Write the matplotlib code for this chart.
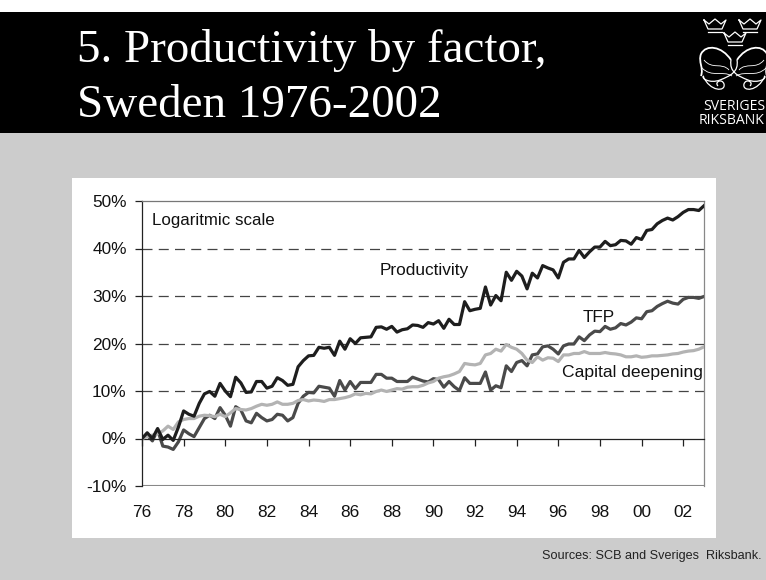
import matplotlib
matplotlib.use("Agg")
import matplotlib.pyplot as plt
from matplotlib.patches import Rectangle, PathPatch
from matplotlib.path import Path

W, H = 766, 580

productivity = [0, 1.2, 0, 2.1, -0.2, 0.7, -0.4, 2.4, 5.8, 5.1, 4.7, 7.4, 9.4, 9.9, 8.9, 11.6,
                10.0, 8.8, 12.9, 11.7, 9.7, 9.8, 12.0, 12.0, 10.6, 11.0, 12.8, 12.2, 11.2, 11.4, 15.1, 16.4,
                17.4, 17.5, 19.2, 19.0, 19.2, 17.5, 20.5, 18.8, 21.0, 20.0, 21.2, 21.3, 21.4, 23.4, 23.5, 23.0,
                23.6, 22.4, 22.9, 23.1, 23.9, 23.8, 23.4, 24.4, 24.1, 24.8, 23.2, 25.1, 24.0, 24.0, 28.8, 26.9,
                27.2, 27.4, 31.9, 28.1, 30.1, 29.0, 35.0, 33.3, 35.2, 34.2, 31.5, 34.8, 33.8, 36.4, 35.9, 35.5,
                33.8, 37.1, 37.8, 37.8, 39.6, 38.1, 39.3, 40.3, 40.3, 41.5, 40.6, 40.8, 41.7, 41.6, 40.9, 42.3,
                41.9, 43.8, 44.0, 45.2, 45.9, 46.4, 46.0, 46.7, 47.6, 48.2, 48.2, 48.0, 49.0]

tfp = [0, 0.7, -0.5, 1.8, -1.6, -1.8, -2.3, -0.7, 1.8, 1.0, 0.4, 2.3, 4.2, 4.9, 4.2, 6.5,
       4.9, 2.6, 6.7, 6.0, 3.7, 3.3, 5.3, 4.4, 3.7, 4.0, 5.1, 4.9, 3.7, 4.4, 7.4, 8.9,
       9.7, 9.6, 11.0, 10.8, 10.6, 8.9, 12.2, 10.2, 12.0, 10.5, 11.8, 11.8, 11.8, 13.5, 13.5, 12.7,
       12.7, 12.0, 12.0, 12.0, 12.9, 12.5, 12.1, 11.9, 12.6, 12.4, 10.8, 12.0, 10.9, 10.1, 12.8, 11.6,
       11.6, 11.6, 14.0, 10.2, 11.1, 10.7, 15.3, 14.1, 16.0, 16.4, 15.3, 17.6, 17.8, 19.3, 19.5, 18.8,
       17.8, 19.5, 19.9, 19.9, 21.4, 20.6, 21.8, 22.6, 22.5, 23.6, 23.0, 23.3, 24.2, 23.9, 24.5, 25.4,
       25.2, 26.7, 26.9, 27.8, 28.4, 28.9, 28.5, 28.3, 29.3, 29.7, 29.7, 29.5, 29.9]

capital = [0, 0.4, 0.7, 1.0, 1.6, 2.6, 1.9, 3.5, 4.0, 4.2, 4.2, 4.7, 4.9, 4.8, 4.6, 5.1,
           4.6, 5.4, 6.3, 6.1, 6.0, 6.3, 6.8, 7.2, 7.0, 7.2, 7.7, 7.2, 7.2, 7.4, 8.0, 8.2,
           7.9, 8.1, 8.0, 7.8, 8.2, 8.2, 8.4, 8.6, 8.9, 9.4, 9.2, 9.5, 9.4, 9.9, 10.2, 9.9,
           10.2, 10.5, 10.4, 10.8, 10.9, 10.9, 11.2, 11.7, 12.0, 12.7, 13.0, 13.2, 13.6, 14.1, 15.8, 15.6,
           15.5, 15.8, 17.6, 17.9, 18.8, 18.4, 19.8, 19.2, 18.8, 17.9, 16.5, 16.0, 17.2, 16.5, 17.0, 16.9,
           16.2, 17.6, 17.6, 17.9, 17.9, 18.3, 17.9, 17.9, 17.9, 18.1, 17.9, 17.8, 17.6, 17.2, 17.2, 17.4,
           17.1, 17.2, 17.4, 17.4, 17.5, 17.6, 17.8, 17.9, 18.2, 18.4, 18.5, 18.8, 19.3]

year_labels = ['76', '78', '80', '82', '84', '86', '88', '90', '92', '94', '96', '98', '00', '02']
y_ticks = [-10, 0, 10, 20, 30, 40, 50]
y_labels = ['-10%', '0%', '10%', '20%', '30%', '40%', '50%']

plt.rcParams['font.family'] = ['Liberation Sans', 'DejaVu Sans']

fig = plt.figure(figsize=(W / 100, H / 100), dpi=100, facecolor='#cccccc')

# page background, in pixels
bg = fig.add_axes([0, 0, 1, 1])
bg.set_xlim(0, W)
bg.set_ylim(H, 0)
bg.axis('off')
bg.add_patch(Rectangle((0, 0), W, 12, color='white', lw=0))
bg.add_patch(Rectangle((0, 12), W, 121, color='black', lw=0))
bg.add_patch(Rectangle((72, 178), 644, 360, color='white', lw=0))
bg.text(77, 62, '5. Productivity by factor,', color='white', fontsize=33.8, family='Liberation Serif',
        va='baseline', ha='left')
bg.text(77, 117, 'Sweden 1976-2002', color='white', fontsize=33.8, family='Liberation Serif',
        va='baseline', ha='left')
bg.text(762, 556.5, 'Sources: SCB and Sveriges  Riksbank.', color='#222222', fontsize=9.1, va='center', ha='right')


def curve(points, lw=0.9):
    codes = [Path.MOVETO] + [Path.CURVE4] * (len(points) - 1)
    bg.add_patch(PathPatch(Path(points, codes), fc='none', ec='white', lw=lw))


# logo: three crowns and ribbons, only roughly
for cx, cy in [(715, 25), (750, 25), (735, 38)]:
    crown = [(cx - 11, cy - 5), (cx - 6, cy - 1), (cx, cy - 6), (cx + 6, cy - 1), (cx + 11, cy - 5),
             (cx + 7, cy + 4), (cx - 7, cy + 4), (cx - 11, cy - 5)]
    bg.plot(*zip(*crown), color='white', lw=0.9)
    bg.plot([cx - 7, cx + 7], [cy + 7, cy + 7], color='white', lw=0.9)
for s in (-1, 1):
    c = 734
    curve([(c + s * 3, 60), (c + s * 12, 46), (c + s * 28, 44), (c + s * 33, 54),
           (c + s * 36, 62), (c + s * 30, 68), (c + s * 33, 76)], lw=1.3)
    curve([(c + s * 3, 60), (c + s * 5, 72), (c - s * 4, 76), (c - s * 14, 80),
           (c - s * 24, 84), (c - s * 34, 78), (c - s * 30, 76)])
    curve([(c + s * 30, 60), (c + s * 22, 70), (c + s * 12, 62), (c + s * 5, 70)], lw=0.6)
    curve([(c + s * 32, 68), (c + s * 22, 78), (c + s * 12, 70), (c + s * 2, 76)], lw=0.6)
    curve([(c + s * 31, 76), (c + s * 24, 92), (c + s * 8, 92), (c + s * 10, 84),
           (c + s * 12, 78), (c + s * 20, 82), (c + s * 16, 86)])
bg.text(703, 106.5, 'SVERIGES', color='white', fontsize=10.1, family='Open Sans', va='center', ha='left')
bg.text(699, 120.5, 'RIKSBANK', color='white', fontsize=10.1, family='Open Sans', va='center', ha='left')

# chart
ax = fig.add_axes([142 / W, 1 - 486 / H, (704 - 142) / W, (486 - 201) / H])
ax.patch.set_alpha(0)
ax.set_xlim(0, 108)
ax.set_ylim(-10, 50)

for y in [10, 20, 30, 40]:
    ax.axhline(y, color='#444444', lw=0.9, dashes=(8, 5), zorder=1)

x = range(len(productivity))
ax.plot(x, capital, color='#b3b3b3', lw=2.3, zorder=3)
ax.plot(x, tfp, color='#4a4a4a', lw=2.3, zorder=2)
ax.plot(x, productivity, color='#1e1e1e', lw=2.3, zorder=4)

ax.set_yticks(y_ticks)
ax.set_yticklabels(y_labels)
ax.set_xticks(range(0, 108, 8))
ax.set_xticklabels(year_labels)
ax.tick_params(axis='y', length=5, width=0.9, color='#222222', labelsize=12.4, labelcolor='#111111', pad=6)
ax.tick_params(axis='x', length=5, width=0.9, color='#222222', labelsize=12.4, labelcolor='#111111', direction='out', pad=43)

# x axis sits at zero, the frame around is grey
ax.spines['bottom'].set_position(('data', 0))
ax.spines['bottom'].set_color('#222222')
ax.spines['bottom'].set_linewidth(0.9)
ax.spines['left'].set_color('#222222')
ax.spines['left'].set_linewidth(0.9)
ax.spines['top'].set_color('#777777')
ax.spines['right'].set_color('#888888')
ax.spines['top'].set_linewidth(0.9)
ax.spines['right'].set_linewidth(0.9)
ax.axhline(-10, color='#888888', lw=1.5, zorder=1)

ax.text(1.9, 45.8, 'Logaritmic scale', fontsize=12.2, color='#111111', va='center', ha='left')
ax.text(45.7, 35.3, 'Productivity', fontsize=12.4, color='#111111', va='center', ha='left', zorder=5)
ax.text(84.7, 25.4, 'TFP', fontsize=12.3, color='#111111', va='center', ha='left', zorder=5)
ax.text(107.7, 13.9, 'Capital deepening', fontsize=12.6, color='#111111', va='center', ha='right', zorder=5)

fig.savefig('out.png', dpi=100)
